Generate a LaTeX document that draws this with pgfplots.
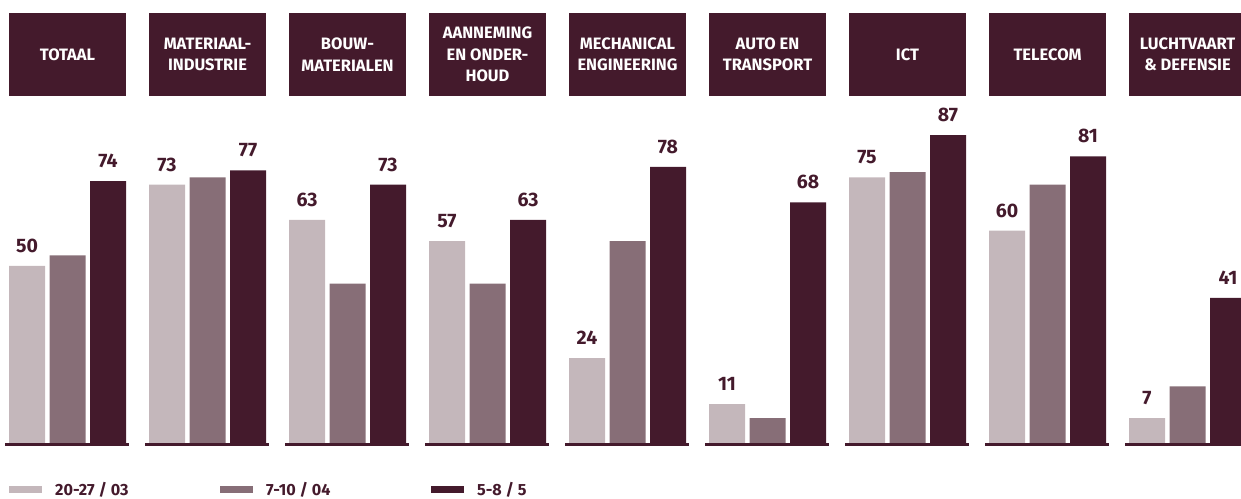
\documentclass[border=0pt]{standalone}
\usepackage{pgfplots}
\pgfplotsset{compat=1.18}
\usepackage{fontspec}
\setmainfont{Fira Sans}
\definecolor{cLight}{HTML}{C4B7BB}
\definecolor{cMid}{HTML}{876E77}
\definecolor{cDark}{HTML}{441A2C}
\begin{document}
\begin{tikzpicture}
\path[use as bounding box] (0,0) rectangle (1241pt,498pt);
\begin{axis}[
  at={(0,0)}, anchor=south west,
  scale only axis, width=1241pt, height=498pt,
  xmin=0, xmax=1241, ymin=-15.537, ymax=125.14,
  hide axis, clip=false,
  /pgf/number format/assume math mode=true,
  ybar, bar width=36pt,
  every axis plot/.append style={bar shift=0pt, draw=none},
  nodes near coords style={font=\fontsize{19.5}{19.5}\selectfont\bfseries, text=cDark, anchor=south, inner sep=0pt, yshift=13pt},
]
% series 1 (20-27/03)
\addplot[fill=cLight, nodes near coords] coordinates {
 (27,50) (167,73) (307,63) (447,57) (587,24) (727,11) (867,75) (1007,60) (1147,7)};
% series 2 (7-10/04)
\addplot[fill=cMid] coordinates {
 (67.5,53) (207.5,75) (347.5,45) (487.5,45) (627.5,57) (767.5,7) (907.5,76.5) (1047.5,73) (1187.5,16)};
% series 3 (5-8/5)
\addplot[fill=cDark, nodes near coords] coordinates {
 (108,74) (248,77) (388,73) (528,63) (668,78) (808,68) (948,87) (1088,81) (1228,41)};
\end{axis}
% baselines
\foreach \i in {0,...,8}{
  \fill[cDark] ({5pt+140pt*\i},52.5pt) rectangle ({129pt+140pt*\i},55.5pt);
}
% header boxes
\foreach \i/\t in {0/{TOTAAL},1/{MATERIAAL-\\INDUSTRIE},2/{BOUW-\\MATERIALEN},3/{AANNEMING\\EN ONDER-\\HOUD},4/{MECHANICAL\\ENGINEERING},5/{AUTO EN\\TRANSPORT},6/{ICT},7/{TELECOM},8/{LUCHTVAART\\\& DEFENSIE}}{
  \fill[cDark] ({9pt+140pt*\i},402pt) rectangle ({126pt+140pt*\i},485pt);
  \node[text=white, font=\fontsize{16.5}{21.5}\selectfont\bfseries, align=center, inner sep=0pt] at ({67.5pt+140pt*\i},443.5pt) {\t};
}
% legend
\foreach \x/\c/\t in {9/cLight/{20-27 / 03},220/cMid/{7-10 / 04},431/cDark/{5-8 / 5}}{
  \fill[\c] (\x pt,5pt) rectangle ({\x pt+33pt},12pt);
  \node[anchor=west, inner sep=0pt, text=cDark, font=\fontsize{16.2}{16.2}\selectfont\bfseries] at ({\x pt+46pt},8.5pt) {\t};
}
\end{tikzpicture}
\end{document}
